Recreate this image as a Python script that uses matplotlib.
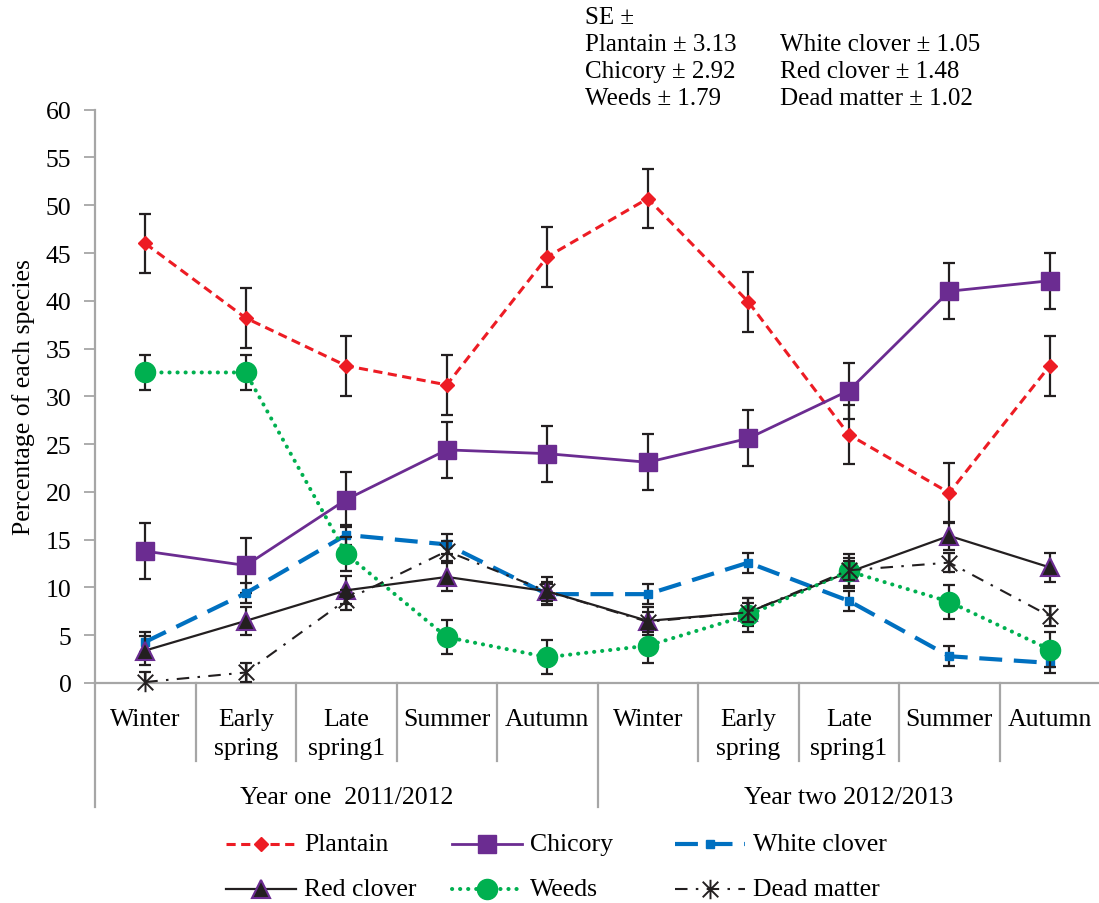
import matplotlib
matplotlib.use("Agg")
import matplotlib.pyplot as plt
from matplotlib.lines import Line2D
from matplotlib.path import Path
import matplotlib.transforms as mtransforms

plt.rcParams['font.family'] = ['Liberation Serif', 'DejaVu Serif']

# ---- data -----------------------------------------------------------------
seasons = ["Winter", "Early\nspring", "Late\nspring1", "Summer", "Autumn",
           "Winter", "Early\nspring", "Late\nspring1", "Summer", "Autumn"]
years = ["Year one  2011/2012", "Year two 2012/2013"]

plantain = [46.0, 38.2, 33.2, 31.2, 44.6, 50.7, 39.9, 26.0, 19.9, 33.2]
chicory = [13.8, 12.3, 19.2, 24.4, 24.0, 23.1, 25.6, 30.6, 41.0, 42.1]
white_clover = [4.3, 9.4, 15.5, 14.5, 9.3, 9.3, 12.6, 8.6, 2.8, 2.1]
red_clover = [3.4, 6.5, 9.7, 11.1, 9.6, 6.5, 7.4, 11.6, 15.4, 12.1]
weeds = [32.5, 32.5, 13.5, 4.8, 2.7, 3.9, 7.1, 11.7, 8.5, 3.5]
dead_matter = [0.1, 1.1, 8.7, 13.8, 9.6, 6.4, 7.4, 11.8, 12.6, 7.0]

se_plantain = 3.13
se_chicory = 2.92
se_weeds = 1.79
se_white_clover = 1.05
se_red_clover = 1.48
se_dead_matter = 1.02

# ---- figure ----------------------------------------------------------------
W, H = 1099, 904
fig = plt.figure(figsize=(W / 100, H / 100), dpi=100)


def fx(px):
    return px / W


def fy(py):
    return 1 - py / H


ax_left, ax_right, ax_top, ax_bottom = 95, 1100, 110.7, 684
ax = fig.add_axes([fx(ax_left), fy(ax_bottom), fx(ax_right - ax_left),
                   (ax_bottom - ax_top) / H])

x = list(range(len(seasons)))

# asterisk: vertical bar plus a diagonal cross
ast_path = Path([(0, -1), (0, 1), (-0.8, -0.8), (0.8, 0.8), (-0.8, 0.8), (0.8, -0.8)],
                [Path.MOVETO, Path.LINETO, Path.MOVETO, Path.LINETO, Path.MOVETO, Path.LINETO])

FS = 18.5
ERR = '#231F20'

styles = [
    dict(label="Plantain", y=plantain, se=se_plantain,
         kw=dict(color='#ED1C24', lw=2.2, dashes=(3.0, 1.8), marker='D', ms=7.2,
                 mfc='#ED1C24', mec='#ED1C24')),
    dict(label="Chicory", y=chicory, se=se_chicory,
         kw=dict(color='#6B2C91', lw=2.0, ls='-', marker='s', ms=13,
                 mfc='#6B2C91', mec='#6B2C91')),
    dict(label="White clover", y=white_clover, se=se_white_clover,
         kw=dict(color='#0070C0', lw=3.0, dashes=(5.5, 2.8), marker='s', ms=5.5,
                 mfc='#0070C0', mec='#0070C0')),
    dict(label="Red clover", y=red_clover, se=se_red_clover,
         kw=dict(color='#231F20', lw=1.6, ls='-', marker='^', ms=13,
                 mfc='#231F20', mec='#6B2C91', mew=1.5)),
    dict(label="Weeds", y=weeds, se=se_weeds,
         kw=dict(color='#00B050', lw=2.9, dashes=(0.05, 1.95), dash_capstyle='round',
                 marker='o', ms=14.5, mfc='#00B050', mec='#00B050')),
    dict(label="Dead matter", y=dead_matter, se=se_dead_matter,
         kw=dict(color='#231F20', lw=1.5, dashes=(6, 4, 1.2, 4), marker=ast_path, ms=14,
                 mfc='none', mec='#231F20', mew=1.4)),
]

for i, s in enumerate(styles):
    ax.errorbar(x, s["y"], yerr=s["se"], fmt='none', ecolor=ERR, elinewidth=1.6,
                capsize=4.2, capthick=1.6, zorder=2 + 2 * i)
    ax.plot(x, s["y"], clip_on=False, zorder=3 + 2 * i, **s["kw"])

ax.set_xlim(-0.5, len(seasons) - 0.5)
ax.set_ylim(0, 60)
ax.set_yticks(range(0, 61, 5))
ax.tick_params(axis='y', direction='out', length=8, width=1.3, color='#A6A6A6',
               labelsize=FS, pad=9)
ax.set_xticks([])
for sp in ('top', 'right'):
    ax.spines[sp].set_visible(False)
for sp in ('left', 'bottom'):
    ax.spines[sp].set_color('#A6A6A6')
    ax.spines[sp].set_linewidth(1.6)

ax.set_ylabel("Percentage of each species", fontsize=FS, labelpad=8)

# ---- category axis below the plot ----------------------------------------
trans = mtransforms.blended_transform_factory(ax.transData, fig.transFigure)
for i, lab in enumerate(seasons):
    lines = lab.split("\n")
    for j, ln in enumerate(lines):
        ax.text(i, fy(726 + 29 * j), ln, transform=trans, ha='center', va='baseline',
                fontsize=FS)

n_per_year = len(seasons) // len(years)
for k in range(1, len(seasons)):
    bottom = 808 if k % n_per_year == 0 else 762
    ax.plot([k - 0.5, k - 0.5], [fy(684), fy(bottom)], transform=trans,
            color='#A6A6A6', lw=1.6, clip_on=False)
ax.plot([-0.5, -0.5], [fy(684), fy(808)], transform=trans,
        color='#A6A6A6', lw=1.6, clip_on=False)

for k, yl in enumerate(years):
    ax.text(k * n_per_year + (n_per_year - 1) / 2, fy(804), yl, transform=trans,
            ha='center', va='baseline', fontsize=FS)

# ---- standard error note ----------------------------------------------------
se_left = [("SE \u00b1", None),
           (f"Plantain \u00b1 {se_plantain:.2f}", f"White clover \u00b1 {se_white_clover:.2f}"),
           (f"Chicory \u00b1 {se_chicory:.2f}", f"Red clover \u00b1 {se_red_clover:.2f}"),
           (f"Weeds \u00b1 {se_weeds:.2f}", f"Dead matter \u00b1 {se_dead_matter:.2f}")]
for r, (a, b) in enumerate(se_left):
    yb = 24 + 27 * r
    fig.text(fx(585), fy(yb), a, ha='left', va='baseline', fontsize=18)
    if b:
        fig.text(fx(780), fy(yb), b, ha='left', va='baseline', fontsize=18)

# ---- legend -----------------------------------------------------------------
col_x = [226, 452, 675]
row_y = [845, 890]
handle_len = 70
for i, s in enumerate(styles):
    r, c = divmod(i, 3)
    x0 = col_x[c]
    yy = fy(row_y[r])
    ln = Line2D([fx(x0), fx(x0 + handle_len / 2), fx(x0 + handle_len)], [yy] * 3,
                transform=fig.transFigure, markevery=[1], **s["kw"])
    fig.add_artist(ln)
    fig.text(fx(x0 + handle_len + 8), yy, s["label"], ha='left', va='center',
             fontsize=FS)

fig.savefig("out.png", dpi=100)
